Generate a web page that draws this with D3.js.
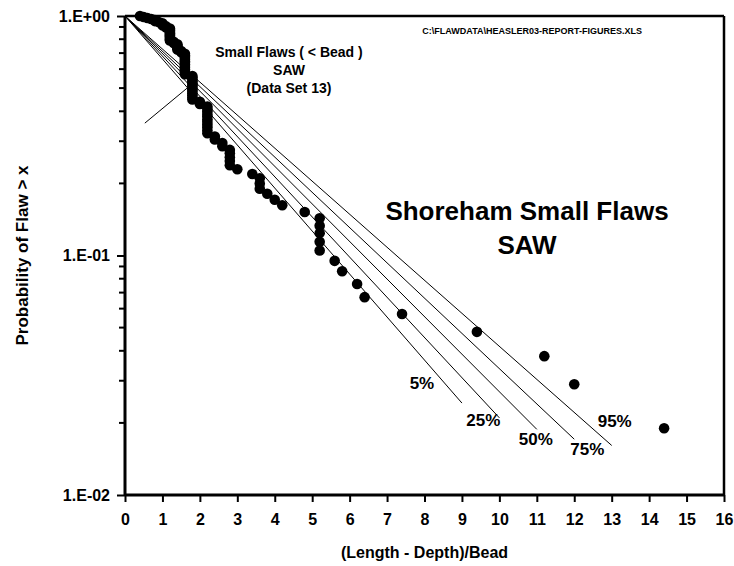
<!DOCTYPE html>
<html><head><meta charset="utf-8">
<script src="https://cdn.jsdelivr.net/npm/d3@7"></script>
<style>
body{margin:0;background:#fff}
text{font-family:Arial,"Liberation Sans",Helvetica,sans-serif;font-weight:bold;fill:#000}
</style>
</head><body>
<svg id="chart" width="734" height="566"></svg>
<script>
// ---- data ----
const xTickLabels = ["0","1","2","3","4","5","6","7","8","9","10","11","12","13","14","15","16"];
const yTickValues = [1, 0.1, 0.01];
const yTickLabels = ["1.E+00", "1.E-01", "1.E-02"];
// observed flaws: (Length - Depth)/Bead
const flawX = [
  0.4,0.5,0.6,0.7,0.8,0.8,0.9,1.0,1.0,1.0,1.1,1.1,1.2,1.2,1.2,1.2,1.2,1.2,1.2,1.2,1.2,1.2,1.2,
  1.3,1.3,1.4,1.4,1.4,1.4,1.4,1.5,1.5,1.6,1.6,1.6,1.6,1.6,1.6,1.6,1.6,1.6,1.6,1.6,1.6,1.6,1.6,
  1.8,1.8,1.8,1.8,1.8,1.8,1.8,1.8,1.8,1.8,1.8,1.8,1.8,2.0,2.0,
  2.2,2.2,2.2,2.2,2.2,2.2,2.2,2.2,2.2,2.2,2.2,2.4,2.4,2.6,2.6,2.8,2.8,2.8,2.8,2.8,3.0,
  3.4,3.6,3.6,3.6,3.8,4.0,4.2,4.8,5.2,5.2,5.2,5.2,5.2,5.6,5.8,6.2,6.4,7.4,9.4,11.2,12.0,14.4
];
// probability of flaw > x
const flawP = [
  1.000,0.990,0.981,0.971,0.962,0.952,0.943,0.933,0.924,0.914,0.905,0.895,0.886,0.876,0.867,0.857,0.848,0.838,0.829,0.819,0.810,0.800,0.790,
  0.781,0.771,0.762,0.752,0.743,0.733,0.724,0.714,0.705,0.695,0.686,0.676,0.667,0.657,0.648,0.638,0.629,0.619,0.610,0.600,0.590,0.581,0.571,
  0.562,0.552,0.543,0.533,0.524,0.514,0.505,0.495,0.486,0.476,0.467,0.457,0.448,0.438,0.429,
  0.419,0.410,0.400,0.390,0.381,0.371,0.362,0.352,0.343,0.333,0.324,0.314,0.305,0.295,0.286,0.276,0.267,0.257,0.248,0.238,0.229,
  0.219,0.210,0.200,0.190,0.181,0.171,0.162,0.152,0.143,0.133,0.124,0.114,0.105,0.095,0.086,0.076,0.067,0.057,0.048,0.038,0.029,0.019
];
// fitted exponential bounds
const fitLabels = ["5%","25%","50%","75%","95%"];
const fitStartX = [0,0,0,0,0];
const fitStartP = [1,1,1,1,1];
const fitEndX = [9,10,11,12,13];
const fitEndP = [0.0242,0.0210,0.0188,0.0171,0.0161];
// annotation leader line
const leaderX = [0.53, 1.66];
const leaderP = [0.357, 0.50];

// ---- layout ----
const L = 125, R = 724, T = 16, B = 495;
const svg = d3.select("#chart");
const x = d3.scaleLinear().domain([0,16]).range([L,R]);
const y = d3.scaleLog().domain([0.01,1]).range([B,T]);

// fit lines
const g = svg.append("g");
fitLabels.forEach((lab,i)=>{
  g.append("line")
    .attr("x1",x(fitStartX[i])).attr("y1",y(fitStartP[i]))
    .attr("x2",x(fitEndX[i])).attr("y2",y(fitEndP[i]))
    .attr("stroke","#000").attr("stroke-width",1);
});
const labelOffsets = [[-40,-20],[-16,3],[-1,10],[13,10],[3,-24]];
fitLabels.forEach((lab,i)=>{
  g.append("text")
    .attr("x",x(fitEndX[i])+labelOffsets[i][0])
    .attr("y",y(fitEndP[i])+labelOffsets[i][1])
    .attr("text-anchor","middle").attr("dominant-baseline","central")
    .attr("font-size",17).text(lab);
});
// leader
g.append("line")
  .attr("x1",x(leaderX[0])).attr("y1",y(leaderP[0]))
  .attr("x2",x(leaderX[1])).attr("y2",y(leaderP[1]))
  .attr("stroke","#000").attr("stroke-width",1);

// points
svg.append("g").selectAll("circle").data(flawX).join("circle")
  .attr("cx",(d)=>x(d)).attr("cy",(d,i)=>y(flawP[i])).attr("r",5.3).attr("fill","#000");

// frame top/right
svg.append("line").attr("x1",L).attr("x2",R).attr("y1",T).attr("y2",T).attr("stroke","#000").attr("stroke-width",2.5);
svg.append("line").attr("x1",R).attr("x2",R).attr("y1",T).attr("y2",B).attr("stroke","#000").attr("stroke-width",2.5);

// x axis
const xAxis = d3.axisBottom(x).tickValues(d3.range(xTickLabels.length)).tickFormat((d,i)=>xTickLabels[i]).tickSize(7).tickPadding(12);
const xg = svg.append("g").attr("transform",`translate(0,${B})`).call(xAxis);
xg.select(".domain").attr("stroke-width",3).attr("d",`M${L},0H${R}`);
xg.selectAll(".tick line").attr("stroke-width",2);
xg.selectAll("text").attr("font-size",16).attr("font-family",null);

// y axis
const yAxis = d3.axisLeft(y).tickValues(yTickValues).tickFormat((d,i)=>yTickLabels[i]).tickSize(8).tickPadding(7);
const yg = svg.append("g").attr("transform",`translate(${L},0)`).call(yAxis);
yg.select(".domain").attr("stroke-width",3).attr("d",`M0,${B}V${T}`);
yg.selectAll(".tick line").attr("stroke-width",2);
yg.selectAll("text").attr("font-size",16).attr("font-family",null);
const minor = [];
[0.01,0.1].forEach(dec=>{for(let k=2;k<=9;k++) minor.push(dec*k);});
yg.selectAll(".minor").data(minor).join("line").attr("class","minor")
  .attr("x1",-6).attr("x2",0).attr("y1",d=>y(d)).attr("y2",d=>y(d))
  .attr("stroke","#000").attr("stroke-width",2);

// axis titles
svg.append("text").attr("x",(L+R)/2).attr("y",552).attr("text-anchor","middle").attr("dominant-baseline","central")
  .attr("font-size",16).text("(Length - Depth)/Bead");
svg.append("text").attr("transform",`translate(22,${(T+B)/2}) rotate(-90)`).attr("text-anchor","middle").attr("dominant-baseline","central")
  .attr("font-size",17).text("Probability of Flaw > x");

// titles and notes
svg.append("text").attr("x",642).attr("y",31).attr("text-anchor","end").attr("dominant-baseline","central")
  .attr("font-size",9).text("C:\\FLAWDATA\\HEASLER03-REPORT-FIGURES.XLS");
const note = ["Small Flaws ( < Bead )","SAW","(Data Set 13)"];
note.forEach((t,i)=>svg.append("text").attr("x",289).attr("y",52+i*18).attr("text-anchor","middle").attr("dominant-baseline","central").attr("font-size",14).text(t));
const title = ["Shoreham Small Flaws","SAW"];
title.forEach((t,i)=>svg.append("text").attr("x",527).attr("y",211+i*34).attr("text-anchor","middle").attr("dominant-baseline","central").attr("font-size",26).text(t));
</script>
</body></html>
